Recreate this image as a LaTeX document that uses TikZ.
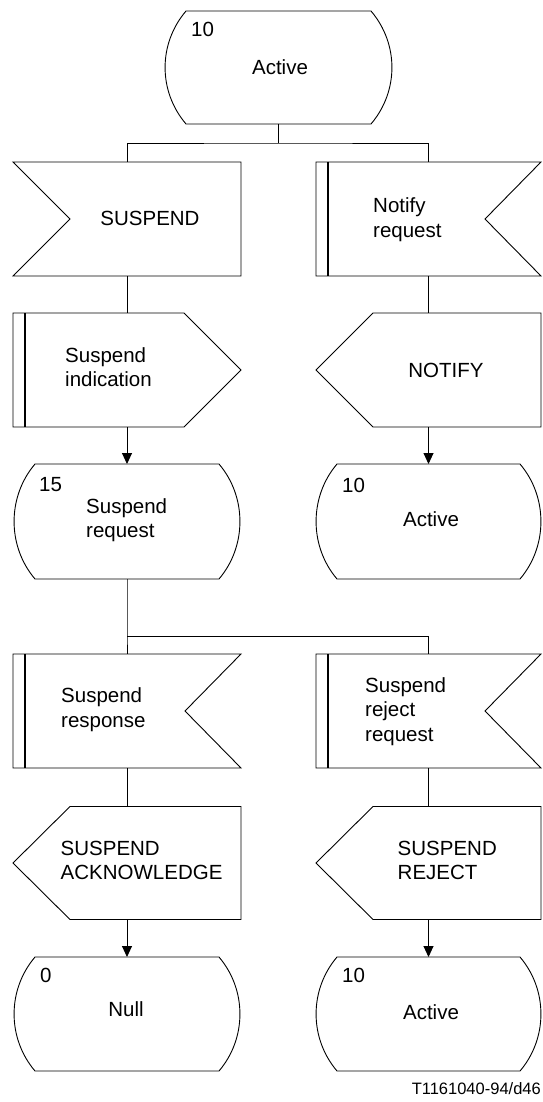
\documentclass[tikz,border=0pt]{standalone}
\usepackage{fontspec}
\setmainfont{Liberation Sans}
\usetikzlibrary{calc,arrows.meta}
\tikzset{
  shp/.style={draw=black,line width=0.9pt,line join=miter},
  bar/.style={draw=black,line width=2pt},
  box/.style={rectangle,draw=none,inner sep=0pt,outer sep=0pt,minimum width=#1},
  box/.default=228pt,
  txt/.style={inner sep=0pt,align=left,font=\fontsize{20.5}{24.5}\selectfont},
  con/.style={draw=black,line width=0.9pt},
  arr/.style={con,-{Triangle[length=11pt,width=10pt]}},
}
\newcommand\stateoutline[1]{%
  \draw[shp] ($(#1.north west)+(21,0)$) -- ($(#1.north east)+(-21,0)$)
    .. controls +(27.9,32.8) and +(27.9,-32.8) .. ($(#1.south east)+(-21,0)$)
    -- ($(#1.south west)+(21,0)$)
    .. controls +(-27.9,-32.8) and +(-27.9,32.8) .. ($(#1.north west)+(21,0)$) -- cycle;}
\newcommand\inleftoutline[1]{%
  \draw[shp] (#1.north west) -- (#1.north east) -- (#1.south east) -- (#1.south west)
    -- ($(#1.west)+(57,0)$) -- cycle;}
\newcommand\inrightoutline[1]{%
  \draw[shp] (#1.north west) -- (#1.north east) -- ($(#1.east)+(-56,0)$) -- (#1.south east)
    -- (#1.south west) -- cycle;
  \draw[bar] ($(#1.north west)+(12,0)$) -- ($(#1.south west)+(12,0)$);}
\newcommand\outrightoutline[1]{%
  \draw[shp] (#1.north west) -- ($(#1.north east)+(-57,0)$) -- (#1.east) -- ($(#1.south east)+(-57,0)$)
    -- (#1.south west) -- cycle;
  \draw[bar] ($(#1.north west)+(12,0)$) -- ($(#1.south west)+(12,0)$);}
\newcommand\outleftoutline[1]{%
  \draw[shp] (#1.west) -- ($(#1.north west)+(57,0)$) -- (#1.north east) -- (#1.south east)
    -- ($(#1.south west)+(57,0)$) -- cycle;}
\begin{document}
\begin{tikzpicture}[x=1pt,y=-1pt]
\useasboundingbox (0,0) rectangle (542,1102);
% shape boxes
\node[box=227pt,minimum height=113pt] (s0) at (278.5,67.5) {};
\node[box=228pt,minimum height=114pt] (i1) at (127,219) {};
\node[box=225pt,minimum height=114pt] (i2) at (428.5,219) {};
\node[box=228pt,minimum height=114pt] (o1) at (127,370) {};
\node[box=225pt,minimum height=114pt] (o2) at (428.5,370) {};
\node[box=226pt,minimum height=115pt] (s1) at (127,521.5) {};
\node[box=225pt,minimum height=115pt] (s2) at (428.5,521.5) {};
\node[box=228pt,minimum height=114pt] (i3) at (127,711) {};
\node[box=225pt,minimum height=114pt] (i4) at (428.5,711) {};
\node[box=228pt,minimum height=113pt] (o3) at (127,863) {};
\node[box=225pt,minimum height=113pt] (o4) at (428.5,863) {};
\node[box=226pt,minimum height=114pt] (s3) at (127,1014) {};
\node[box=225pt,minimum height=114pt] (s4) at (428.5,1014) {};
% outlines
\stateoutline{s0}
\inleftoutline{i1}
\inrightoutline{i2}
\outrightoutline{o1}
\outleftoutline{o2}
\stateoutline{s1}
\stateoutline{s2}
\inrightoutline{i3}
\inrightoutline{i4}
\outleftoutline{o3}
\outleftoutline{o4}
\stateoutline{s3}
\stateoutline{s4}
% texts
\node[txt,anchor=west] (n0) at (191,29) {10};
\node[txt] (t0) at (280,67) {Active};
\node[txt] (ti1) at (150,218) {SUSPEND};
\node[txt,anchor=west] (ti2) at (373,219.5) {Notify\\request};
\node[txt,anchor=west] (to1) at (65,367) {Suspend\\indication};
\node[txt] (to2) at (446,370) {NOTIFY};
\node[txt,anchor=west] (n1) at (39,485) {15};
\node[txt,anchor=west] (ts1) at (86,520) {Suspend\\request};
\node[txt,anchor=west] (n2) at (342,485) {10};
\node[txt] (ts2) at (431,519) {Active};
\node[txt,anchor=west] (ti3) at (61,709.5) {Suspend\\response};
\node[txt,anchor=west] (ti4) at (365,711.5) {Suspend\\reject\\request};
\node[txt,anchor=west] (to3) at (60.5,860.5) {SUSPEND\\ACKNOWLEDGE};
\node[txt,anchor=west] (to4) at (397.5,860.5) {SUSPEND\\REJECT};
\node[txt,anchor=west] (n3) at (40,975) {0};
\node[txt] (ts3) at (126,1009) {Null};
\node[txt,anchor=west] (n4) at (342,975) {10};
\node[txt] (ts4) at (431,1012) {Active};
\node[inner sep=0pt,anchor=east,font=\fontsize{16.5}{18}\selectfont] (foot) at (541,1089) {T1161040-94/d46};
% connectors
\coordinate (j1) at (278.5,143);
\coordinate (j2) at (127,636);
\draw[con] (s0.south) -- (j1);
\draw[con] (i1.north) |- (j1) -| (i2.north);
\draw[con] (i1.south) -- (o1.north);
\draw[con] (i2.south) -- (o2.north);
\draw[arr] (o1.south) -- (s1.north);
\draw[arr] (o2.south) -- (s2.north);
\draw[con] (s1.south) -- (j2) -- (i3.north);
\draw[con] (j2) -| (i4.north);
\draw[con] (i3.south) -- (o3.north);
\draw[con] (i4.south) -- (o4.north);
\draw[arr] (o3.south) -- (s3.north);
\draw[arr] (o4.south) -- (s4.north);
\end{tikzpicture}
\end{document}
